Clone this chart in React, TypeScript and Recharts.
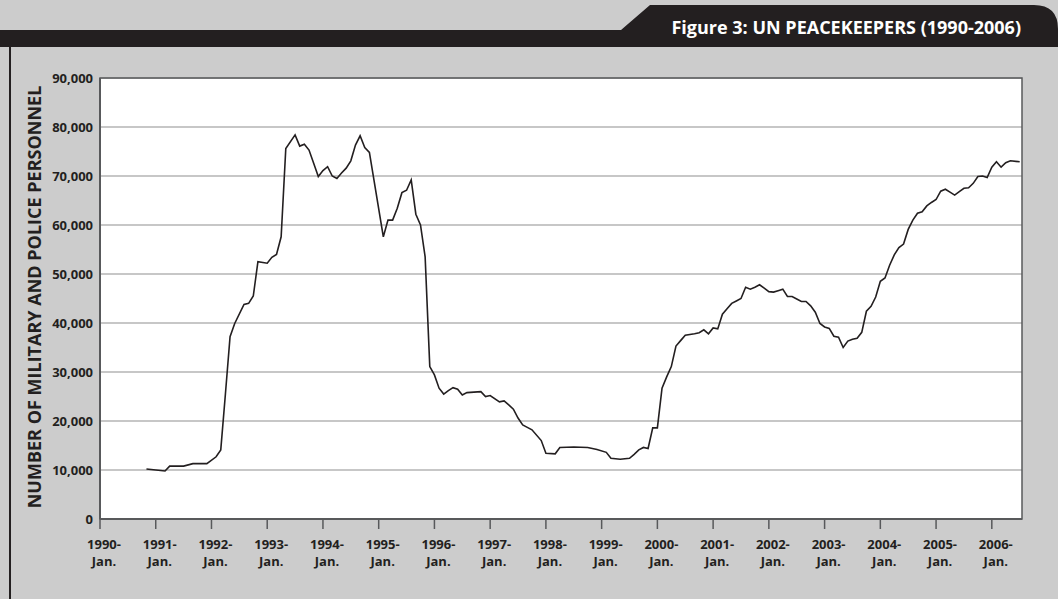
import React from "react";
import { LineChart, Line, XAxis, YAxis, CartesianGrid, ReferenceArea } from "recharts";

// Month of each reading (YYYY-MM) and number of UN military and police personnel
const dates = [
  "1990-11", "1991-03", "1991-04", "1991-07", "1991-09", "1991-12",
  "1992-02", "1992-03", "1992-04", "1992-05", "1992-06", "1992-08", "1992-09", "1992-10", "1992-11",
  "1993-01", "1993-02", "1993-03", "1993-04", "1993-05", "1993-07", "1993-08", "1993-09", "1993-10", "1993-11", "1993-12",
  "1994-01", "1994-02", "1994-03", "1994-04", "1994-05", "1994-06", "1994-07", "1994-08", "1994-09", "1994-10", "1994-11",
  "1995-02", "1995-03", "1995-04", "1995-05", "1995-06", "1995-07", "1995-08", "1995-09", "1995-10", "1995-11", "1995-12",
  "1996-01", "1996-02", "1996-03", "1996-04", "1996-05", "1996-06", "1996-07", "1996-08", "1996-11", "1996-12",
  "1997-01", "1997-03", "1997-04", "1997-05", "1997-06", "1997-07", "1997-08", "1997-09", "1997-10", "1997-12",
  "1998-01", "1998-03", "1998-04", "1998-07", "1998-10", "1998-12",
  "1999-02", "1999-03", "1999-05", "1999-07", "1999-08", "1999-09", "1999-10", "1999-11", "1999-12",
  "2000-01", "2000-02", "2000-03", "2000-04", "2000-05", "2000-06", "2000-07", "2000-09", "2000-10", "2000-11", "2000-12",
  "2001-01", "2001-02", "2001-03", "2001-04", "2001-05", "2001-06", "2001-07", "2001-08", "2001-09", "2001-10", "2001-11", "2001-12",
  "2002-01", "2002-02", "2002-03", "2002-04", "2002-05", "2002-06", "2002-07", "2002-08", "2002-09", "2002-10", "2002-11", "2002-12",
  "2003-01", "2003-02", "2003-03", "2003-04", "2003-05", "2003-06", "2003-07", "2003-08", "2003-09", "2003-10", "2003-11", "2003-12",
  "2004-01", "2004-02", "2004-03", "2004-04", "2004-05", "2004-06", "2004-07", "2004-08", "2004-09", "2004-10", "2004-11", "2004-12",
  "2005-01", "2005-02", "2005-03", "2005-04", "2005-05", "2005-06", "2005-07", "2005-08", "2005-09", "2005-10", "2005-11", "2005-12",
  "2006-01", "2006-02", "2006-03", "2006-04", "2006-05", "2006-07",
];

const personnel = [
  10200, 9800, 10800, 10800, 11300, 11300,
  12700, 14100, 25500, 37200, 39900, 43800, 44000, 45500, 52500,
  52200, 53400, 54000, 57600, 75600, 78400, 76100, 76500, 75300, 72600, 69900,
  71100, 71900, 70000, 69500, 70600, 71600, 73100, 76300, 78200, 75800, 74800,
  57600, 61000, 61000, 63400, 66600, 67100, 69200, 62200, 60000, 53500, 31100,
  29400, 26700, 25500, 26200, 26800, 26500, 25300, 25800, 26000, 25000,
  25200, 23900, 24100, 23300, 22400, 20600, 19200, 18700, 18200, 16000,
  13400, 13300, 14600, 14700, 14600, 14200,
  13600, 12400, 12200, 12400, 13200, 14100, 14600, 14400, 18600,
  18600, 26700, 29000, 31100, 35300, 36400, 37500, 37800, 38000, 38600, 37800,
  39000, 38800, 41800, 42900, 44000, 44500, 45000, 47300, 46900, 47300, 47800, 47100,
  46400, 46300, 46600, 46900, 45400, 45400, 44900, 44400, 44400, 43500, 42200, 39900,
  39200, 38900, 37300, 37100, 35000, 36300, 36700, 36900, 38100, 42400, 43400, 45300,
  48500, 49200, 51800, 53900, 55400, 56100, 59100, 61000, 62400, 62700, 63900, 64600,
  65200, 66900, 67300, 66700, 66100, 66800, 67500, 67600, 68500, 69900, 70000, 69700,
  71800, 72900, 71800, 72700, 73100, 72900,
];

const tickYears = [
  "1990", "1991", "1992", "1993", "1994", "1995", "1996", "1997", "1998",
  "1999", "2000", "2001", "2002", "2003", "2004", "2005", "2006",
];
const tickMonthLabel = "Jan.";
const yTicks = [0, 10000, 20000, 30000, 40000, 50000, 60000, 70000, 80000, 90000];

const title = "Figure 3: UN PEACEKEEPERS (1990-2006)";
const yTitle = "NUMBER OF MILITARY AND POLICE PERSONNEL";

const BASE_YEAR = 1990;
const monthIndex = (d: string) => {
  const [y, m] = d.split("-").map(Number);
  return (y - BASE_YEAR) * 12 + (m - 1);
};

const data = dates.map((d, i) => ({ m: monthIndex(d), v: personnel[i] }));
const tickMonths = tickYears.map((y) => (Number(y) - BASE_YEAR) * 12);
const X_MAX = 198.5;

const INK = "#231f20";
const AXIS = "#58595b";

const XTick = (props: any) => {
  const { x, y, payload } = props;
  const yr = tickYears[Math.round(payload.value / 12)];
  return (
    <text x={x + 4} y={y} textAnchor="middle" fill={INK} fontWeight={700} fontSize={13}>
      <tspan x={x + 4} dy={18}>{`${yr}-`}</tspan>
      <tspan x={x + 4} dy={17}>{tickMonthLabel}</tspan>
    </text>
  );
};

export default function App() {
  return (
    <div
      style={{
        position: "absolute",
        left: 0,
        top: 0,
        width: 1058,
        height: 599,
        background: "#cccccc",
        overflow: "hidden",
        fontFamily: '"Open Sans", sans-serif',
      }}
    >
      <svg style={{ position: "absolute", left: 0, top: 0 }} width={1058} height={599}>
        <path d="M0 30 H621 L650 5 H1034 Q1058 5 1058 29 V47 H0 Z" fill={INK} />
        <text x={1021} y={34} textAnchor="end" fill="#ffffff" fontWeight={700} fontSize={18}>
          {title}
        </text>
        <line x1={10} y1={47} x2={10} y2={599} stroke={INK} strokeWidth={2} />
        <text
          transform="translate(41,297) rotate(-90)"
          textAnchor="middle"
          fill={INK}
          fontWeight={700}
          fontSize={18}
        >
          {yTitle}
        </text>
      </svg>
      <div style={{ position: "absolute", left: 0, top: 0 }}>
        <LineChart width={1058} height={599} data={data} margin={{ top: 78, right: 36, bottom: 50, left: 0 }}>
          <CartesianGrid vertical={false} stroke="#b5b5b5" strokeWidth={1.5} fill="#ffffff" />
          <XAxis
            dataKey="m"
            type="number"
            domain={[0, X_MAX]}
            ticks={tickMonths}
            interval={0}
            height={30}
            allowDataOverflow
            tick={<XTick />}
            tickSize={10}
            tickMargin={2}
            tickLine={{ stroke: AXIS, strokeWidth: 1.5 }}
            axisLine={{ stroke: AXIS, strokeWidth: 2 }}
          />
          <YAxis
            type="number"
            domain={[0, 90000]}
            ticks={yTicks}
            interval={0}
            width={100}
            tickSize={0}
            tickMargin={7}
            tickLine={false}
            axisLine={{ stroke: AXIS, strokeWidth: 2 }}
            tick={{ fill: INK, fontSize: 13, fontWeight: 700 }}
            tickFormatter={(v: number) => v.toLocaleString("en-US")}
          />
          <ReferenceArea
            x1={0}
            x2={X_MAX}
            y1={0}
            y2={90000}
            fill="none"
            stroke={AXIS}
            strokeWidth={1.5}
            ifOverflow="visible"
          />
          <Line
            type="linear"
            dataKey="v"
            stroke={INK}
            strokeWidth={1.6}
            dot={false}
            isAnimationActive={false}
          />
        </LineChart>
      </div>
    </div>
  );
}
